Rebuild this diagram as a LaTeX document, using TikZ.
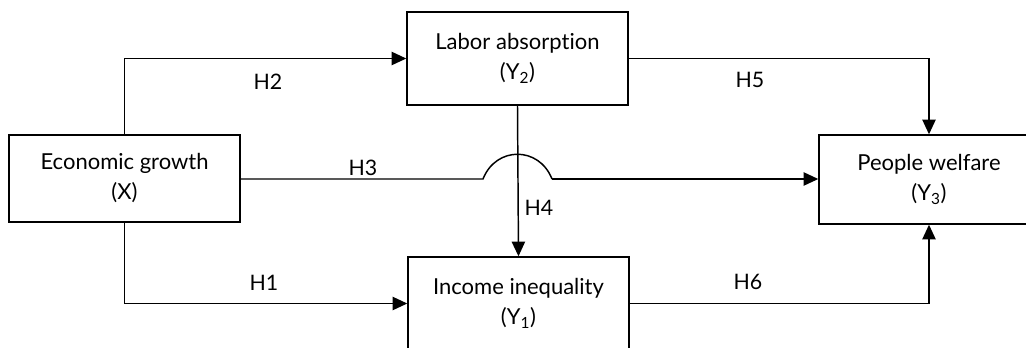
\documentclass[tikz,border=0pt]{standalone}
\usepackage{fontspec}
\setmainfont{Lato}[Ligatures={NoCommon,NoRare}]
\usetikzlibrary{arrows.meta}
\begin{document}
\begin{tikzpicture}[x=0.75pt,y=-0.75pt,
  box/.style={draw,line width=1.1pt,minimum width=221*0.75pt,inner sep=0pt,align=center,font=\fontsize{16.5}{22.5}\selectfont},
  conn/.style={line width=1.1pt,-{Triangle[length=11pt,width=10pt]}},
  plain/.style={line width=1.1pt},
  lbl/.style={font=\fontsize{16}{18}\selectfont,inner sep=0pt}]
\useasboundingbox (0,0) rectangle (1026,347);
\node[box,minimum width=231*0.75pt,minimum height=87*0.75pt] (X) at (124.5,178.5) {Economic growth\\(X)};
\node[box,minimum height=93*0.75pt] (Y2) at (517.5,58.5) {Labor absorp\kern0pt tion\\(Y\textsubscript{2})};
\node[box,minimum width=220*0.75pt,minimum height=89*0.75pt] (Y3) at (929,179.5) {People welfare\\(Y\textsubscript{3})};
\node[box,minimum height=93*0.75pt] (Y1) at (518.5,303.5) {Income inequality\\(Y\textsubscript{1})};
\coordinate (b1) at (483,179);
\coordinate (b2) at (552,179);
\draw[conn] (X.north) |- (Y2.west);
\draw[conn] (X.south) |- (Y1.west);
\draw[plain] (X.east |- b1) -- (b1) .. controls (496,146) and (539,146) .. (b2);
\draw[conn] (b2) -- (Y3.west |- b2);
\draw[conn] (Y2.south) -- (Y1.north);
\draw[conn] (Y2.east) -| (Y3.north);
\draw[conn] (Y1.east) -| (Y3.south);
\node[lbl] (h2) at (268,82) {H2};
\node[lbl] (h3) at (363,168) {H3};
\node[lbl] (h4) at (539,208) {H4};
\node[lbl] (h5) at (750,80) {H5};
\node[lbl] (h1) at (264,283) {H1};
\node[lbl] (h6) at (748,282) {H6};
\end{tikzpicture}
\end{document}
